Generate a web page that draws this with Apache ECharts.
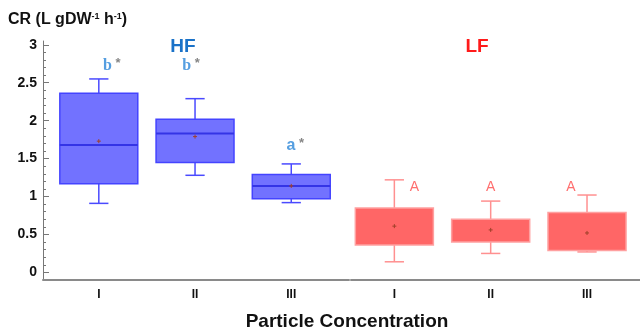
<!DOCTYPE html>
<html><head><meta charset="utf-8">
<script src="https://cdn.jsdelivr.net/npm/echarts@6/dist/echarts.min.js"></script>
<style>html,body{margin:0;padding:0;background:#fff}#c{width:640px;height:335px}</style>
</head><body><div id="c"></div>
<script>
// ---- data ----
const categories = ['I', 'II', 'III'];
const yTickValues = [0, 0.5, 1, 1.5, 2, 2.5, 3];
// HF boxes: whisker low, Q1, median, Q3, whisker high, mean
const hfLow    = [0.91, 1.28, 0.92];
const hfQ1     = [1.17, 1.45, 0.97];
const hfMedian = [1.68, 1.83, 1.14];
const hfQ3     = [2.36, 2.02, 1.29];
const hfHigh   = [2.55, 2.29, 1.43];
const hfMean   = [1.73, 1.79, 1.14];
const hfLetters = ['b', 'b', 'a'];
const hfLetterY = [2.72, 2.72, 1.67];
// LF boxes
const lfLow    = [0.14, 0.25, 0.27];
const lfQ1     = [0.36, 0.40, 0.29];
const lfMedian = [null, null, null];
const lfQ3     = [0.85, 0.70, 0.79];
const lfHigh   = [1.22, 0.94, 1.02];
const lfMean   = [0.61, 0.56, 0.52];
const lfLetters = ['A', 'A', 'A'];
const lfLetterY = [1.12, 1.12, 1.12];

// ---- styles ----
const BOX_W = 0.81, CAP_W = 0.2;
const hfStyle = {fill:'#7272ff', stroke:'#4444ff', whisker:'#4a4aff', median:'#3434e6'};
const lfStyle = {fill:'#ff6666', stroke:'#ffa0a0', whisker:'#ff9090', median:null};
const hfLabelOffsets = [[13,0],[-4,0],[4,0]];
const lfLabelOffsets = [[20,0],[0,0],[-16,0]];

function boxData(lo,q1,med,q3,hi,mean){
  return categories.map((c,i)=>[i+1, lo[i], q1[i], med[i], q3[i], hi[i], mean[i]]);
}
function makeRender(st){
  return function(params, api){
    const x = api.value(0);
    const lo=api.value(1), q1=api.value(2), med=api.value(3), q3=api.value(4), hi=api.value(5), mean=api.value(6);
    const half = api.size([BOX_W,0])[0]/2, cap = api.size([CAP_W,0])[0]/2;
    const pLo=api.coord([x,lo]), pQ1=api.coord([x,q1]), pQ3=api.coord([x,q3]), pHi=api.coord([x,hi]), pMean=api.coord([x,mean]);
    const cx = pLo[0];
    const ls = {stroke: st.whisker, lineWidth: 1.5};
    const ch = [
      {type:'line', shape:{x1:cx,y1:pQ3[1],x2:cx,y2:pHi[1]}, style:ls},
      {type:'line', shape:{x1:cx-cap,y1:pHi[1],x2:cx+cap,y2:pHi[1]}, style:ls},
      {type:'line', shape:{x1:cx,y1:pQ1[1],x2:cx,y2:pLo[1]}, style:ls},
      {type:'line', shape:{x1:cx-cap,y1:pLo[1],x2:cx+cap,y2:pLo[1]}, style:ls},
      {type:'rect', shape:{x:cx-half,y:pQ3[1],width:2*half,height:pQ1[1]-pQ3[1]}, style:{fill:st.fill, stroke:st.stroke, lineWidth:1.5}}
    ];
    if (st.median && med !== null && !isNaN(med)) {
      const pM = api.coord([x,med]);
      ch.push({type:'line', shape:{x1:cx-half,y1:pM[1],x2:cx+half,y2:pM[1]}, style:{stroke:st.median, lineWidth:2}});
    }
    ch.push({type:'line', shape:{x1:cx-2,y1:pMean[1],x2:cx+2,y2:pMean[1]}, style:{stroke:'#a0402a', lineWidth:1}});
    ch.push({type:'line', shape:{x1:cx,y1:pMean[1]-2,x2:cx,y2:pMean[1]+2}, style:{stroke:'#a0402a', lineWidth:1}});
    return {type:'group', children: ch};
  };
}

const minorTicks = [];
for (let i = 1; i <= 30; i++) { if (i % 5 !== 0) minorTicks.push(+(i/10).toFixed(1)); }

const yBase = {type:'value', min:-0.1, max:3.05, splitLine:{show:false}, position:'left'};
const xLabel = {customValues:[1,2,3], formatter:v=>categories[Math.round(v)-1], color:'#111', fontWeight:'bold', fontSize:12, fontFamily:'Liberation Sans', margin:9};
const chart = echarts.init(document.getElementById('c'));
chart.setOption({
  animation:false,
  grid:[
    {left:43, top:41, width:306, bottom:55},
    {left:351, top:41, right:0, bottom:55}
  ],
  xAxis:[
    {gridIndex:0, type:'value', min:0.42, max:3.6, splitLine:{show:false},
     axisLine:{onZero:false, lineStyle:{color:'#8a8a8a', width:2}}, axisTick:{show:false}, axisLabel:xLabel},
    {gridIndex:1, type:'value', min:0.55, max:3.55, splitLine:{show:false},
     axisLine:{onZero:false, lineStyle:{color:'#8a8a8a', width:2}}, axisTick:{show:false}, axisLabel:xLabel}
  ],
  yAxis:[
    Object.assign({}, yBase, {gridIndex:0,
      axisLine:{show:true, onZero:false, lineStyle:{color:'#777', width:1}},
      axisTick:{show:true, inside:true, length:6, customValues:yTickValues, lineStyle:{color:'#777'}},
      axisLabel:{customValues:yTickValues, color:'#111', fontWeight:'bold', fontSize:14, fontFamily:'Liberation Sans', margin:6}}),
    Object.assign({}, yBase, {gridIndex:0,
      axisLine:{show:false, onZero:false},
      axisTick:{show:true, inside:true, length:3, customValues:minorTicks, lineStyle:{color:'#777'}},
      axisLabel:{show:false}}),
    Object.assign({}, yBase, {gridIndex:1, show:false})
  ],
  graphic:[
    {type:'text', left:8, top:12, style:{rich:{
        b:{fontSize:16, fontWeight:'bold', fontFamily:'Liberation Sans', fill:'#111'},
        s:{fontSize:9, fontWeight:'bold', fontFamily:'Liberation Sans', fill:'#111', padding:[0,0,6,0]}},
        text:'{b|CR (L gDW}{s|-1}{b| h}{s|-1}{b|)}'}},
    {type:'text', x:183, y:47, style:{text:'HF', fontSize:19, fontWeight:'bold', fontFamily:'Liberation Sans', fill:'#1a72c8', align:'center', verticalAlign:'middle'}},
    {type:'text', x:477, y:47, style:{text:'LF', fontSize:19, fontWeight:'bold', fontFamily:'Liberation Sans', fill:'#ff1a1a', align:'center', verticalAlign:'middle'}},
    {type:'text', x:347, y:322, style:{text:'Particle Concentration', fontSize:19, fontWeight:'bold', fontFamily:'Liberation Sans', fill:'#111', align:'center', verticalAlign:'middle'}}
  ],
  series:[
    {type:'custom', xAxisIndex:0, yAxisIndex:0, renderItem:makeRender(hfStyle),
     data:boxData(hfLow,hfQ1,hfMedian,hfQ3,hfHigh,hfMean), encode:{x:0, y:[1,2,3,4,5]}},
    {type:'custom', xAxisIndex:1, yAxisIndex:2, renderItem:makeRender(lfStyle),
     data:boxData(lfLow,lfQ1,lfMedian,lfQ3,lfHigh,lfMean), encode:{x:0, y:[1,2,4,5]}},
    {type:'scatter', xAxisIndex:0, yAxisIndex:0, symbolSize:0, silent:true,
     data:hfLetters.map((t,i)=>({value:[i+1, hfLetterY[i]], name:t,
        label:{show:true, position:'inside', offset:hfLabelOffsets[i], formatter:'{l|'+t+'}{s| *}',
          rich:{l:{fontSize:16, fontFamily: t==='b' ? 'Liberation Serif' : 'Liberation Sans', fontWeight:'bold', color:'#2a86d8'},
                s:{fontSize:13, color:'#666', fontFamily:'Liberation Sans', fontWeight:'bold', padding:[0,0,5,0]}}}}))},
    {type:'scatter', xAxisIndex:1, yAxisIndex:2, symbolSize:0, silent:true,
     data:lfLetters.map((t,i)=>({value:[i+1, lfLetterY[i]], name:t,
        label:{show:true, position:'inside', offset:lfLabelOffsets[i], formatter:t,
          fontSize:14, fontFamily:'Liberation Sans', color:'#ff4a4a'}}))}
  ]
});
</script></body></html>
